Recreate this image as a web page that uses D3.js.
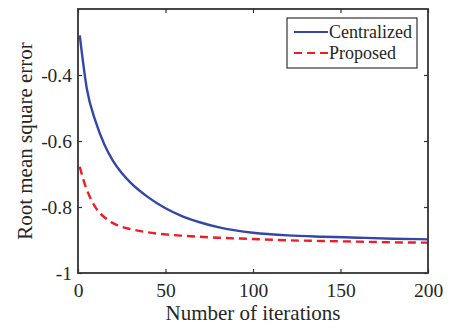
<!DOCTYPE html>
<html>
<head>
<meta charset="utf-8">
<script src="https://cdn.jsdelivr.net/npm/d3@7"></script>
<style>
  body { margin: 0; background: #fff; }
  text { font-family: "Liberation Serif", "Times New Roman", serif; fill: #262626; }
</style>
</head>
<body>
<div id="chart"></div>
<script>
// data
var iterCentral = [1, 5, 10, 15, 20, 25, 30, 40, 50, 60, 70, 80, 90, 100, 120, 140, 160, 180, 200];
var rmseCentral = [-0.28, -0.44, -0.54, -0.61, -0.66, -0.697, -0.726, -0.770, -0.804, -0.829, -0.847, -0.861, -0.871, -0.878, -0.886, -0.890, -0.893, -0.896, -0.898];
var iterProposed = [1, 3, 5, 8, 10, 13, 16, 20, 25, 30, 40, 50, 60, 80, 100, 120, 140, 160, 180, 200];
var rmseProposed = [-0.678, -0.716, -0.747, -0.783, -0.801, -0.821, -0.835, -0.849, -0.860, -0.867, -0.877, -0.883, -0.887, -0.893, -0.897, -0.901, -0.903, -0.905, -0.907, -0.908];
var xTicks = [0, 50, 100, 150, 200];
var yTicks = [-1, -0.8, -0.6, -0.4];
var seriesNames = ["Centralized", "Proposed"];

var W = 455, H = 328;
var margin = {top: 9, right: 27, bottom: 55, left: 78};
var width = W - margin.left - margin.right,
    height = H - margin.top - margin.bottom;

var svg = d3.select("#chart").append("svg")
    .attr("width", W)
    .attr("height", H);
var g = svg.append("g")
    .attr("transform", "translate(" + margin.left + "," + margin.top + ")");

var x = d3.scaleLinear().domain([0, 200]).range([0, width]);
var y = d3.scaleLinear().domain([-1, -0.2]).range([height, 0]);

// plain hyphen minus like the original figure
var fmt = function(d) { return d === -1 ? "-1" : "-" + d3.format(".1f")(Math.abs(d)); };

// lines
var line = d3.line()
    .x(function(d) { return x(d[0]); })
    .y(function(d) { return y(d[1]); })
    .curve(d3.curveMonotoneX);

g.append("path")
  .datum(d3.zip(iterCentral, rmseCentral))
  .attr("d", line)
  .attr("fill", "none")
  .attr("stroke", "#3347a8")
  .attr("stroke-width", 2.4);

g.append("path")
  .datum(d3.zip(iterProposed, rmseProposed))
  .attr("d", line)
  .attr("fill", "none")
  .attr("stroke", "#f01c24")
  .attr("stroke-width", 2.4)
  .attr("stroke-dasharray", "8,5");

// axes (ticks inside, mirrored on top/right)
var axisColor = "#333";
function styleAxis(sel) {
  sel.select(".domain").remove();
  sel.selectAll(".tick line").attr("stroke", axisColor).attr("stroke-width", 1.2);
  sel.selectAll(".tick text").style("font-size", "19.5px").attr("fill", "#262626");
}

g.append("g")
  .attr("transform", "translate(0," + height + ")")
  .call(d3.axisBottom(x).tickValues(xTicks).tickSize(-4).tickPadding(10))
  .call(styleAxis);

g.append("g")
  .call(d3.axisLeft(y).tickValues(yTicks).tickFormat(fmt).tickSize(-4).tickPadding(6))
  .call(styleAxis);

g.append("g")
  .call(d3.axisTop(x).tickValues(xTicks).tickSize(-4).tickFormat(""))
  .call(styleAxis);

g.append("g")
  .attr("transform", "translate(" + width + ",0)")
  .call(d3.axisRight(y).tickValues(yTicks).tickSize(-4).tickFormat(""))
  .call(styleAxis);

g.append("rect")
  .attr("width", width)
  .attr("height", height)
  .attr("fill", "none")
  .attr("stroke", axisColor)
  .attr("stroke-width", 1.8);

// axis titles
svg.append("text")
  .attr("x", margin.left + width / 2)
  .attr("y", 320)
  .attr("text-anchor", "middle")
  .style("font-size", "21px")
  .text("Number of iterations");

svg.append("text")
  .attr("transform", "translate(32," + (margin.top + height / 2) + ") rotate(-90)")
  .attr("text-anchor", "middle")
  .style("font-size", "21px")
  .text("Root mean square error");

// legend
var lg = svg.append("g").attr("transform", "translate(287,18)");
lg.append("rect")
  .attr("width", 130)
  .attr("height", 50)
  .attr("fill", "#fff")
  .attr("stroke", axisColor)
  .attr("stroke-width", 1.2);

var legendStyles = [
  {color: "#3347a8", dash: null},
  {color: "#f01c24", dash: "8,5"}
];
seriesNames.forEach(function(name, i) {
  var yy = 14 + i * 21;
  lg.append("line")
    .attr("x1", 7).attr("x2", 41)
    .attr("y1", yy).attr("y2", yy)
    .attr("stroke", legendStyles[i].color)
    .attr("stroke-width", 2.2)
    .attr("stroke-dasharray", legendStyles[i].dash);
  lg.append("text")
    .attr("x", 42)
    .attr("y", yy)
    .attr("dy", "0.35em")
    .style("font-size", "18px")
    .text(name);
});
</script>
</body>
</html>
